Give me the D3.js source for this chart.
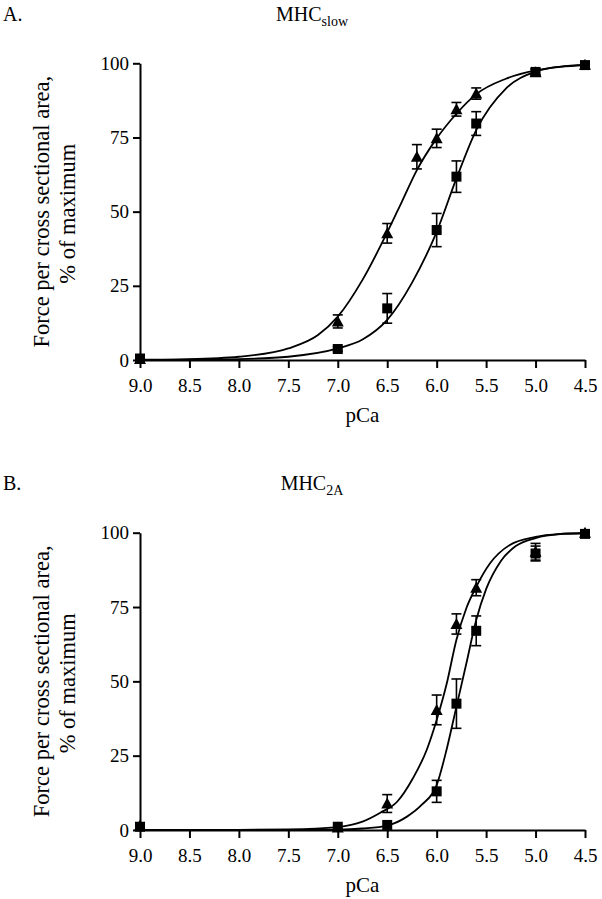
<!DOCTYPE html>
<html><head><meta charset="utf-8">
<script src="https://cdn.jsdelivr.net/npm/d3@7"></script>
<style>
body{margin:0;background:#fff}
svg{display:block}
svg text{font-family:"Liberation Serif","Times New Roman",serif !important;fill:#000}
</style>
</head><body>
<svg id="chart" width="602" height="899" font-family="Liberation Serif"></svg>
<script>
// ---------- data ----------
const xTicks = [9.0, 8.5, 8.0, 7.5, 7.0, 6.5, 6.0, 5.5, 5.0, 4.5];
const yTicks = [0, 25, 50, 75, 100];
const yLabel1 = "Force per cross sectional area,";
const yLabel2 = "% of maximum";
const xLabel = "pCa";

// Panel A (MHC slow)
const aTriPCa = [9.0, 7.0, 6.5, 6.2, 6.0, 5.8, 5.6, 5.0, 4.5];
const aTriVal = [0.3, 13.0, 42.7, 68.5, 74.7, 84.5, 89.8, 97.0, 99.5];
const aTriErr = [0, 2.2, 3.3, 4.1, 3.1, 2.3, 1.9, 1.0, 0];
const aSqPCa = [9.0, 7.0, 6.5, 6.0, 5.8, 5.6, 5.0, 4.5];
const aSqVal = [0.5, 3.7, 17.4, 43.8, 61.8, 79.7, 97.1, 99.4];
const aSqErr = [0, 0.8, 5.0, 5.6, 5.3, 4.0, 1.0, 0];
const aTriFitPCa = [9.0, 8.5, 8.0, 7.5, 7.2, 7.0, 6.75, 6.5, 6.35, 6.2, 6.0, 5.8, 5.6, 5.3, 5.0, 4.75, 4.5];
const aTriFitVal = [0.1, 0.3, 1.1, 3.9, 8.4, 14.6, 27.0, 43.0, 53.5, 64.0, 74.7, 83.0, 89.6, 94.8, 97.6, 98.8, 99.4];
const aSqFitPCa = [9.0, 8.5, 8.0, 7.5, 7.0, 6.75, 6.5, 6.25, 6.0, 5.8, 5.6, 5.3, 5.0, 4.75, 4.5];
const aSqFitVal = [0.0, 0.1, 0.3, 1.1, 3.9, 6.9, 13.5, 26.0, 43.2, 61.2, 77.5, 91.5, 97.2, 98.9, 99.5];

// Panel B (MHC 2A)
const bTriPCa = [9.0, 7.0, 6.5, 6.0, 5.8, 5.6, 5.0, 4.5];
const bTriVal = [1.5, 0.8, 8.9, 40.4, 69.3, 81.5, 93.6, 100];
const bTriErr = [0, 0, 3.0, 5.0, 3.4, 2.7, 2.8, 0];
const bSqPCa = [9.0, 7.0, 6.5, 6.0, 5.8, 5.6, 5.0, 4.5];
const bSqVal = [1.1, 1.1, 1.7, 13.0, 42.5, 67.0, 93.0, 99.6];
const bSqErr = [0, 0, 0, 3.7, 8.3, 5.0, 2.5, 0];
const bTriFitPCa = [9.0, 8.0, 7.5, 7.0, 6.75, 6.57, 6.4, 6.24, 6.1, 6.0, 5.9, 5.8, 5.7, 5.6, 5.46, 5.26, 5.0, 4.75, 4.5];
const bTriFitVal = [0, 0.05, 0.2, 1.0, 2.8, 5.8, 9.5, 17.4, 27.0, 37.0, 49.0, 64.0, 74.6, 81.8, 89.7, 95.9, 98.6, 99.6, 99.9];
const bSqFitPCa = [9.0, 7.5, 7.0, 6.75, 6.5, 6.3, 6.15, 6.0, 5.9, 5.8, 5.7, 5.6, 5.5, 5.35, 5.2, 5.0, 4.75, 4.5];
const bSqFitVal = [0, 0, 0.1, 0.5, 1.5, 4.5, 8.5, 15.1, 27.0, 41.5, 56.0, 70.6, 81.0, 90.5, 95.5, 98.2, 99.5, 99.8];

const panels = [
  {letter: "A.", sub: "slow", top: 63.3, bottom: 360, titleY: 20.5,
   tri: [aTriPCa, aTriVal, aTriErr], sq: [aSqPCa, aSqVal, aSqErr],
   triFit: [aTriFitPCa, aTriFitVal], sqFit: [aSqFitPCa, aSqFitVal]},
  {letter: "B.", sub: "2A", top: 532.7, bottom: 830, titleY: 490,
   tri: [bTriPCa, bTriVal, bTriErr], sq: [bSqPCa, bSqVal, bSqErr],
   triFit: [bTriFitPCa, bTriFitVal], sqFit: [bSqFitPCa, bSqFitVal]}
];

// ---------- drawing ----------
const FONT = '"Liberation Serif", "Times New Roman", serif';
const svg = d3.select("#chart");
svg.append("rect").attr("width", 602).attr("height", 899).attr("fill", "#fff");
const left = 140, right = 585;

panels.forEach(p => {
  const x = d3.scaleLinear().domain([9.0, 4.5]).range([left, right]);
  const y = d3.scaleLinear().domain([0, 100]).range([p.bottom, p.top]);
  const g = svg.append("g").attr("font-family", FONT);

  // letter and title
  g.append("text").attr("x", 3).attr("y", p.titleY).attr("font-size", 20).attr("font-family", FONT).text(p.letter);
  const t = g.append("text").attr("x", 312).attr("y", p.titleY).attr("font-size", 20)
    .attr("font-family", FONT).attr("text-anchor", "middle");
  t.append("tspan").text("MHC");
  t.append("tspan").attr("font-size", 14).attr("dy", 5).text(p.sub);

  // axes
  const xAxis = g.append("g").attr("transform", `translate(0,${p.bottom})`)
    .call(d3.axisBottom(x).tickValues(xTicks).tickSize(8).tickSizeOuter(0).tickFormat(d3.format(".1f")));
  xAxis.attr("font-family", FONT).attr("font-size", 19);
  xAxis.selectAll("text").attr("y", 32).attr("dy", 0).attr("font-size", 19).attr("font-family", FONT);
  const yAxis = g.append("g").attr("transform", `translate(${left},0)`)
    .call(d3.axisLeft(y).tickValues(yTicks).tickSize(7).tickSizeOuter(0));
  yAxis.attr("font-family", FONT).attr("font-size", 19);
  yAxis.selectAll("text").attr("x", -11).attr("font-size", 19).attr("font-family", FONT);
  [xAxis, yAxis].forEach(a => {
    a.select(".domain").attr("stroke", "#000").attr("stroke-width", 2);
    a.selectAll(".tick line").attr("stroke", "#000").attr("stroke-width", 2);
  });

  // axis labels
  g.append("text").attr("x", (left + right) / 2).attr("y", p.bottom + 62)
    .attr("text-anchor", "middle").attr("font-size", 21).attr("font-family", FONT).text(xLabel);
  const mid = (p.top + p.bottom) / 2;
  const yl = g.append("g").attr("transform", `translate(0,${mid}) rotate(-90)`);
  yl.append("text").attr("x", 0).attr("y", 49).attr("text-anchor", "middle")
    .attr("font-size", 22.5).attr("font-family", FONT).text(yLabel1);
  yl.append("text").attr("x", -2).attr("y", 75).attr("text-anchor", "middle")
    .attr("font-size", 22.5).attr("font-family", FONT).text(yLabel2);

  // fitted curves
  const line = d3.line().x(d => x(d[0])).y(d => y(d[1])).curve(d3.curveMonotoneX);
  [p.triFit, p.sqFit].forEach(f => {
    g.append("path").datum(f[0].map((v, i) => [v, f[1][i]]))
      .attr("d", line).attr("fill", "none").attr("stroke", "#000").attr("stroke-width", 1.8);
  });

  // error bars
  [p.tri, p.sq].forEach(s => {
    s[0].forEach((pc, i) => {
      const e = s[2][i];
      if (!e) return;
      const cx = x(pc), y1 = y(s[1][i] - e), y2 = y(s[1][i] + e);
      g.append("line").attr("x1", cx).attr("x2", cx).attr("y1", y1).attr("y2", y2)
        .attr("stroke", "#000").attr("stroke-width", 1.6);
      [y1, y2].forEach(yy => g.append("line").attr("x1", cx - 5).attr("x2", cx + 5)
        .attr("y1", yy).attr("y2", yy).attr("stroke", "#000").attr("stroke-width", 1.6));
    });
  });

  // markers
  p.tri[0].forEach((pc, i) => {
    const cx = x(pc), cy = y(p.tri[1][i]);
    g.append("path").attr("d", `M${cx},${cy - 6}L${cx + 6},${cy + 5}L${cx - 6},${cy + 5}Z`).attr("fill", "#000");
  });
  p.sq[0].forEach((pc, i) => {
    const cx = x(pc), cy = y(p.sq[1][i]);
    g.append("rect").attr("x", cx - 5).attr("y", cy - 5).attr("width", 10).attr("height", 10).attr("fill", "#000");
  });
});
</script>
</body></html>
